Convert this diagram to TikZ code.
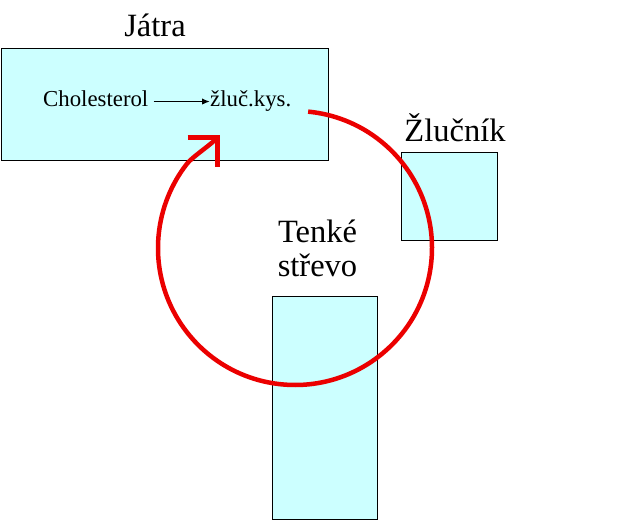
\documentclass[tikz,border=0pt]{standalone}
\usepackage{fontspec}
\setmainfont{Liberation Serif}
\usetikzlibrary{arrows.meta}
\definecolor{boxcyan}{HTML}{CCFFFF}
\definecolor{cyclered}{RGB}{235,0,0}
\tikzset{
  organ/.style={draw=black, line width=0.8pt, fill=boxcyan, inner sep=0pt},
  biglabel/.style={inner sep=0pt, font=\fontsize{32.5}{34}\selectfont},
  smalllabel/.style={inner sep=0pt, font=\fontsize{22.8}{24}\selectfont},
  convarrow/.style={line width=1.6pt, -{Latex[length=8pt,width=6.5pt]}},
  cyclearrow/.style={cyclered, line width=4.5pt,
    -{Straight Barb[length=21pt,width=42pt,line width=5.5pt,sharp]}}
}
\begin{document}
\begin{tikzpicture}[x=1pt,y=-1pt]
\useasboundingbox (0,0) rectangle (640,521);
% boxes
\node[organ, minimum width=327pt, minimum height=112pt] (jatrabox) at (164.5,104) {};
\node[organ, minimum width=96pt, minimum height=88pt] (zlucnikbox) at (449,196) {};
\node[organ, minimum width=105pt, minimum height=223pt] (strevobox) at (324.5,407.5) {};
% labels
\node[biglabel, anchor=base] (jatra) at (155,37) {Játra};
\node[biglabel, anchor=base] (zlucnik) at (455,142) {Žlučník};
\node[biglabel, anchor=base] (tenke) at (317.5,243) {Tenké};
\node[biglabel, anchor=base] (strevo) at (317.5,277) {střevo};
% inside liver
\node[smalllabel, anchor=base west] (chol) at (43,107) {Cholesterol};
\node[smalllabel, anchor=base west] (zluc) at (210,107) {žluč.kys.};
\draw[convarrow] ([xshift=5pt]chol.east |- zluc.west) -- (zluc.west);
% enterohepatic cycle
\coordinate (cyclecenter) at (295,248);
\coordinate (cycletip) at (220,135);
\draw[cyclearrow] (cyclecenter) ++(-84.5:137)
  arc[start angle=-84.5, end angle=218, radius=137]
  .. controls (191.9,157.4) and (209.4,145.6) .. (cycletip);
\end{tikzpicture}
\end{document}
